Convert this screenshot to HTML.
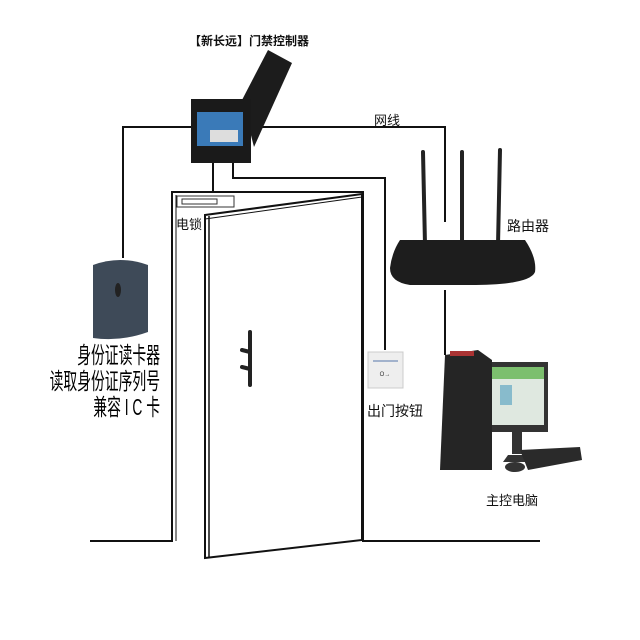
<!DOCTYPE html>
<html><head><meta charset="utf-8"><style>
body{margin:0;width:640px;height:640px;background:#fff;overflow:hidden;font-family:"Liberation Sans","Noto Sans CJK SC",sans-serif}
.t{position:absolute;color:#111;white-space:nowrap}
</style></head><body>
<svg width="640" height="640" style="position:absolute;left:0;top:0">
<g stroke="#111" stroke-width="2" fill="none">
<polyline points="193,127 123,127 123,258"/>
<polyline points="252,127 445,127 445,222"/>
<line x1="213" y1="160" x2="213" y2="192"/>
<polyline points="233,160 233,178 385,178 385,350"/>
<line x1="445" y1="290" x2="445" y2="355"/>
<polyline points="90,541 172,541 172,192 363,192 363,541 540,541"/>
<polygon points="205,215 362,194 362,540 205,558"/>
<line x1="209" y1="216" x2="209" y2="557" stroke-width="1.5"/>
<line x1="205" y1="219" x2="362" y2="197" stroke-width="1"/>
<line x1="176" y1="195" x2="176" y2="541" stroke-width="1"/>
</g>
<rect x="177" y="196" width="57" height="11" fill="#fff" stroke="#333" stroke-width="1"/>
<rect x="182" y="199" width="35" height="5" fill="none" stroke="#333" stroke-width="1"/>
<g stroke="#222" stroke-width="4" stroke-linecap="round"><line x1="250" y1="332" x2="250" y2="385"/><line x1="242" y1="350" x2="250" y2="352"/><line x1="242" y1="367" x2="250" y2="369"/></g>
<polygon points="242,100 268,50 292,63 254,147" fill="#1c1c1c"/>
<rect x="191" y="99" width="60" height="64" fill="#1a1a1a"/>
<rect x="197" y="112" width="46" height="34" fill="#3a7ab8"/>
<rect x="210" y="130" width="28" height="12" fill="#ddd"/>
<path d="M93,265 Q120,255 148,265 L148,332 Q120,342 93,338 Z" fill="#3e4a58"/>
<ellipse cx="118" cy="290" rx="3" ry="7" fill="#222"/>
<g stroke="#222" stroke-width="4" stroke-linecap="round"><line x1="423" y1="152" x2="425" y2="245"/><line x1="462" y1="152" x2="462" y2="245"/><line x1="500" y1="150" x2="498" y2="245"/></g>
<path d="M400,240 L525,240 Q537,258 535,272 Q530,285 470,285 L410,285 Q390,282 390,268 Q392,252 400,240Z" fill="#1d1d1d"/>
<rect x="368" y="352" width="35" height="36" fill="#eee" stroke="#ccc"/>
<line x1="373" y1="361" x2="398" y2="361" stroke="#57a" stroke-width="1"/>
<text x="385" y="376" font-size="6" text-anchor="middle" fill="#333">O→</text>
<rect x="486" y="362" width="62" height="70" fill="#333"/>
<rect x="490" y="367" width="54" height="58" fill="#dfe8e0"/>
<rect x="490" y="367" width="54" height="12" fill="#7cbf6e"/>
<rect x="500" y="385" width="12" height="20" fill="#8bc"/>
<rect x="512" y="432" width="10" height="22" fill="#333"/>
<polygon points="508,455 530,455 540,462 503,462" fill="#333"/>
<polygon points="520,450 580,447 582,460 528,470" fill="#2a2a2a"/>
<ellipse cx="515" cy="467" rx="10" ry="5" fill="#333"/>
<polygon points="445,355 478,350 492,360 492,470 440,470" fill="#252525"/>
<rect x="450" y="351" width="24" height="5" fill="#a33"/>
</svg>
<div class="t" style="left:189px;top:32px;font-size:12px;font-weight:bold">【新长远】门禁控制器</div>
<div class="t" style="left:374px;top:110px;font-size:13px">网线</div>
<div class="t" style="left:176px;top:214px;font-size:13px">电锁</div>
<div class="t" style="left:507px;top:216px;font-size:14px">路由器</div>
<div class="t" style="left:367px;top:401px;font-size:14px">出门按钮</div>
<div class="t" style="left:486px;top:490px;font-size:13px">主控电脑</div>
<div class="t" style="right:480px;top:342px;font-size:23px;text-align:right;line-height:26px;transform:scaleX(0.6);transform-origin:right top;color:#000">身份证读卡器<br>读取身份证序列号<br>兼容 I C 卡</div>
</body></html>
